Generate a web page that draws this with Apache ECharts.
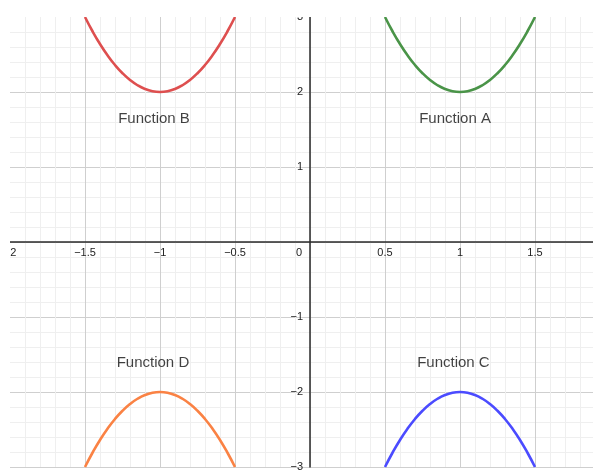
<!DOCTYPE html>
<html>
<head>
<meta charset="utf-8">
<script src="https://cdn.jsdelivr.net/npm/echarts@6/dist/echarts.min.js"></script>
<style>html,body{margin:0;padding:0;background:#fff}#c{width:593px;height:470px}</style>
</head>
<body>
<div id="c"></div>
<script>
// Sample points
const xLeft  = [-1.5,-1.45,-1.4,-1.35,-1.3,-1.25,-1.2,-1.15,-1.1,-1.05,-1.0,-0.95,-0.9,-0.85,-0.8,-0.75,-0.7,-0.65,-0.6,-0.55,-0.5];
const xRight = [0.5,0.55,0.6,0.65,0.7,0.75,0.8,0.85,0.9,0.95,1.0,1.05,1.1,1.15,1.2,1.25,1.3,1.35,1.4,1.45,1.5];
const funcA = [3,2.81,2.64,2.49,2.36,2.25,2.16,2.09,2.04,2.01,2,2.01,2.04,2.09,2.16,2.25,2.36,2.49,2.64,2.81,3];
const funcB = [3,2.81,2.64,2.49,2.36,2.25,2.16,2.09,2.04,2.01,2,2.01,2.04,2.09,2.16,2.25,2.36,2.49,2.64,2.81,3];
const funcC = [-3,-2.81,-2.64,-2.49,-2.36,-2.25,-2.16,-2.09,-2.04,-2.01,-2,-2.01,-2.04,-2.09,-2.16,-2.25,-2.36,-2.49,-2.64,-2.81,-3];
const funcD = [-3,-2.81,-2.64,-2.49,-2.36,-2.25,-2.16,-2.09,-2.04,-2.01,-2,-2.01,-2.04,-2.09,-2.16,-2.25,-2.36,-2.49,-2.64,-2.81,-3];
const labelNames = ['Function B','Function A','Function D','Function C'];
const labelX = [-1.04, 0.967, -1.047, 0.956];
const labelY = [1.64, 1.64, -1.61, -1.61];
const xMin = -2, xMax = 1.8867, xStep = 0.5;
const yMin = -3, yMax = 3, yStep = 1;

const FONT = '"Liberation Sans", Arial, sans-serif';
const pair = (xs, ys) => xs.map((x, i) => [x, ys[i]]);
const minus = v => String(v).replace('-', '\u2212');

const W = 593, H = 470, L = 10, R = 0, T = 17, B = 3;
const gw = W - L - R, gh = H - T - B;
// shift axes so they cross at the origin
const xOffset = -gh * (0 - yMin) / (yMax - yMin);
const yOffset = -gw * (0 - xMin) / (xMax - xMin);

const chart = echarts.init(document.getElementById('c'), null, {renderer: 'canvas'});

function lineSeries(name, data, color) {
  return {
    name, type: 'line', data, smooth: true, showSymbol: false, symbol: 'none',
    lineStyle: {color, width: 2.6}, z: 5, animation: false
  };
}

chart.setOption({
  animation: false,
  grid: {left: L, right: R, top: T, bottom: B, containLabel: false, outerBoundsMode: 'none'},
  xAxis: {
    type: 'value', min: xMin, max: xMax, interval: xStep,
    position: 'bottom', offset: xOffset,
    axisLine: {onZero: false, lineStyle: {color: '#2b2b2b', width: 1.5}},
    axisTick: {show: false},
    minorTick: {show: false, splitNumber: 5},
    splitLine: {show: true, showMinLine: false, showMaxLine: false, lineStyle: {color: '#cfcfcf', width: 1}},
    minorSplitLine: {show: true, lineStyle: {color: '#efefef', width: 1}},
    axisLabel: {
      showMaxLabel: false, showMinLabel: true, margin: 5, hideOverlap: false,
      fontSize: 11, color: '#222', fontFamily: FONT,
      formatter: v => Math.abs(v) < 1e-9 ? '{o|0}' : minus(v),
      rich: {o: {fontSize: 11, color: '#222', fontFamily: FONT, padding: [0, 22, 0, 0]}}
    }
  },
  yAxis: {
    type: 'value', min: yMin, max: yMax, interval: yStep,
    position: 'left', offset: yOffset,
    axisLine: {onZero: false, lineStyle: {color: '#2b2b2b', width: 1.5}},
    axisTick: {show: false},
    minorTick: {show: false, splitNumber: 5},
    splitLine: {show: true, showMaxLine: false, lineStyle: {color: '#cfcfcf', width: 1}},
    minorSplitLine: {show: true, lineStyle: {color: '#efefef', width: 1}},
    axisLabel: {
      margin: 7, fontSize: 11, color: '#222', fontFamily: FONT, hideOverlap: false,
      formatter: v => Math.abs(v) < 1e-9 ? '' : minus(v)
    }
  },
  series: [
    lineSeries('Function A', pair(xRight, funcA), '#4a9448'),
    lineSeries('Function B', pair(xLeft, funcB), '#de4f4f'),
    lineSeries('Function C', pair(xRight, funcC), '#4b4bff'),
    lineSeries('Function D', pair(xLeft, funcD), '#fa8244'),
    {
      type: 'scatter', symbolSize: 0, z: 6, silent: true,
      data: labelNames.map((n, i) => ({name: n, value: [labelX[i], labelY[i]]})),
      label: {show: true, position: 'inside', formatter: p => p.name,
        fontSize: 15, color: '#111', fontFamily: FONT}
    }
  ],
  graphic: [
    {type: 'rect', shape: {x: 0, y: 0, width: W, height: T}, style: {fill: '#fff'}, z: 100},
    {type: 'rect', shape: {x: 0, y: 0, width: L, height: H}, style: {fill: '#fff'}, z: 100}
  ]
});
</script>
</body>
</html>
